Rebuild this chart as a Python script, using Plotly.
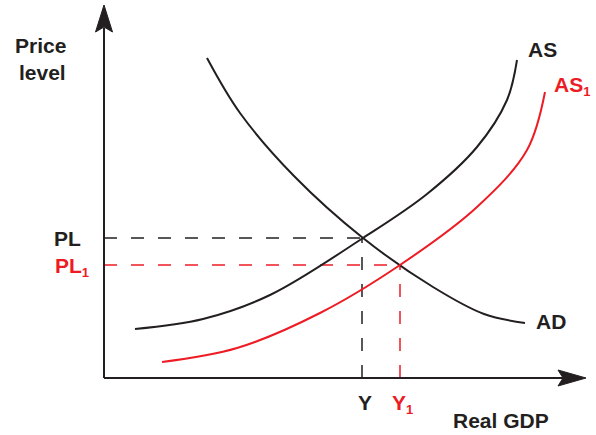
import plotly.graph_objects as go

# chart units: origin at the axis corner, 1 unit = 1 px
ad_x = [103, 136, 190, 259, 329, 380, 421]
ad_y = [320, 265, 202, 140, 91, 64, 55]

as_x = [31, 99, 166, 259, 323, 373, 403, 413]
as_y = [49, 59, 83, 140, 184, 231, 278, 318]

as1_x = [58, 133, 216, 296, 373, 423, 441]
as1_y = [16, 30, 65, 113, 171, 228, 286]

y_eq, pl_eq = 258, 140
y1_eq, pl1_eq = 296, 113

BLACK = "#231f20"
RED = "#ed1c24"
FONT = "Liberation Sans, Arial, sans-serif"
SUB1 = "<sub><span style='font-size:13px'>1</span></sub>"

fig = go.Figure()

# dashed guide lines
dash = "13px,14px"
fig.add_scatter(x=[0, y_eq], y=[pl_eq, pl_eq], mode="lines",
                line=dict(color=BLACK, width=1.5, dash=dash), hoverinfo="skip")
fig.add_scatter(x=[y_eq, y_eq], y=[0, pl_eq], mode="lines",
                line=dict(color=BLACK, width=1.5, dash=dash), hoverinfo="skip")
fig.add_scatter(x=[0, y1_eq], y=[pl1_eq, pl1_eq], mode="lines",
                line=dict(color=RED, width=1.5, dash=dash), hoverinfo="skip")
fig.add_scatter(x=[y1_eq, y1_eq], y=[0, pl1_eq], mode="lines",
                line=dict(color=RED, width=1.5, dash=dash), hoverinfo="skip")

# curves
for xs, ys, col in [(ad_x, ad_y, BLACK), (as_x, as_y, BLACK), (as1_x, as1_y, RED)]:
    fig.add_scatter(x=xs, y=ys, mode="lines",
                    line=dict(color=col, width=2, shape="spline", smoothing=1),
                    hoverinfo="skip")

# axes with arrowheads
fig.add_shape(type="line", x0=0, y0=0, x1=0, y1=350, line=dict(color=BLACK, width=2))
fig.add_shape(type="line", x0=0, y0=0, x1=460, y1=0, line=dict(color=BLACK, width=2))
fig.add_shape(type="path", path="M 0 373 L 8.5 346 L 0 351 L -8.5 346 Z",
              fillcolor=BLACK, line=dict(color=BLACK, width=1))
fig.add_shape(type="path", path="M 482 0 L 454 8 L 459 0 L 454 -8 Z",
              fillcolor=BLACK, line=dict(color=BLACK, width=1))


def label(text, x, y, color=BLACK, xanchor="center"):
    fig.add_annotation(x=x, y=y, text=text, showarrow=False, xanchor=xanchor, yanchor="middle",
                       font=dict(family=FONT, size=21, color=color))


label("<b>Price</b>", -36, 333, xanchor="right")
label("<b>level</b>", -36, 306, xanchor="right")
label("<b>PL</b>", -21, pl_eq, xanchor="right")
label("<b>PL" + SUB1 + "</b>", -13, pl1_eq - 2, color=RED, xanchor="right")
label("<b>AS</b>", 438, 329)
label("<b>AS" + SUB1 + "</b>", 468, 292, color=RED)
label("<b>AD</b>", 447, 57)
label("<b>Y</b>", y_eq + 3, -24)
label("<b>Y" + SUB1 + "</b>", y1_eq + 2, -26, color=RED)
label("<b>Real GDP</b>", 397, -42)

fig.update_layout(
    width=596, height=435,
    margin=dict(l=0, r=0, t=0, b=0),
    paper_bgcolor="white", plot_bgcolor="white",
    showlegend=False,
    xaxis=dict(range=[-104, 492], visible=False, fixedrange=True),
    yaxis=dict(range=[-57, 378], visible=False, fixedrange=True),
)

fig.write_html("out.html", config={"displayModeBar": False},
               post_script="document.body.style.margin = '0';")
